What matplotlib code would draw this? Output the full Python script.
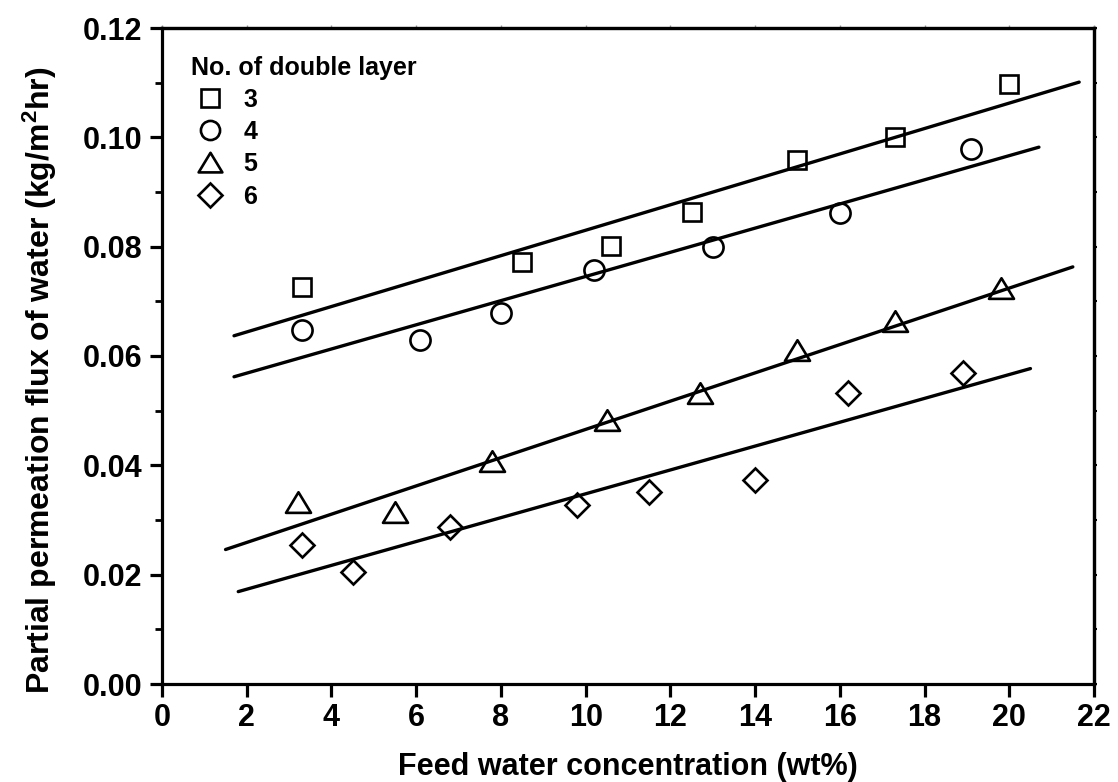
import numpy as np
import matplotlib
matplotlib.use('Agg')
import matplotlib.pyplot as plt
from matplotlib.path import Path
from matplotlib.lines import Line2D

plt.rcParams['font.family'] = ['Liberation Sans', 'DejaVu Sans']
plt.rcParams['font.weight'] = 'bold'
plt.rcParams['mathtext.fontset'] = 'custom'
plt.rcParams['mathtext.rm'] = 'Liberation Sans:bold'
plt.rcParams['mathtext.bf'] = 'Liberation Sans:bold'
plt.rcParams['mathtext.default'] = 'rm'

# measured permeation flux for each number of double layers
x3 = [3.3, 8.5, 10.6, 12.5, 15.0, 17.3, 20.0]
y3 = [0.0726, 0.0772, 0.0802, 0.0864, 0.0959, 0.1001, 0.1097]
x4 = [3.3, 6.1, 8.0, 10.2, 13.0, 16.0, 19.1]
y4 = [0.0647, 0.0629, 0.0678, 0.0757, 0.0799, 0.0862, 0.0979]
x5 = [3.2, 5.5, 7.8, 10.5, 12.7, 15.0, 17.3, 19.8]
y5 = [0.0331, 0.0312, 0.0406, 0.0482, 0.0531, 0.0610, 0.0662, 0.0723]
x6 = [3.3, 4.5, 6.8, 9.8, 11.5, 14.0, 16.2, 18.9]
y6 = [0.0254, 0.0204, 0.0288, 0.0327, 0.0351, 0.0373, 0.0533, 0.0569]

# end points of the linear fits
fit3_x = [1.7, 21.65]
fit3_y = [0.0637, 0.1101]
fit4_x = [1.7, 20.7]
fit4_y = [0.0562, 0.0982]
fit5_x = [1.5, 21.5]
fit5_y = [0.0246, 0.0763]
fit6_x = [1.8, 20.5]
fit6_y = [0.0169, 0.0577]

layers = ['3', '4', '5', '6']

# wide, flat triangle like the original symbol
tri = Path([(-1, -0.75), (1, -0.75), (0, 0.9), (-1, -0.75)], closed=True)

fig = plt.figure(figsize=(11.18, 7.82), dpi=100)
ax = fig.add_axes([162/1118, 1-684/782, 932/1118, 656/782])

lw = 2.4
mew = 1.9
styles = [('s', 13), ('o', 14.5), (tri, 18), ('D', 12.5)]
data = [(x3, y3, fit3_x, fit3_y), (x4, y4, fit4_x, fit4_y),
        (x5, y5, fit5_x, fit5_y), (x6, y6, fit6_x, fit6_y)]

handles = []
for (xs, ys, fx, fy), (mk, ms) in zip(data, styles):
    ax.plot(fx, fy, '-', color='black', lw=lw, solid_capstyle='round')
    ax.plot(xs, ys, linestyle='none', marker=mk, ms=ms, mfc='none',
            mec='black', mew=mew)
    handles.append(Line2D([], [], linestyle='none', marker=mk, ms=ms*0.95,
                          mfc='none', mec='black', mew=mew))

ax.set_xlim(0, 22)
ax.set_ylim(0, 0.12)
ax.set_xticks(np.arange(0, 23, 2))
ax.set_yticks(np.arange(0, 0.121, 0.02))
ax.set_yticks(np.arange(0.01, 0.12, 0.02), minor=True)
ax.set_yticklabels([f'{v:.2f}' for v in np.arange(0, 0.121, 0.02)])

for s in ax.spines.values():
    s.set_linewidth(2.3)

ax.tick_params(axis='both', which='major', direction='out', length=9,
               width=2.3, labelsize=22, pad=5)
ax.tick_params(axis='y', which='minor', direction='out', length=5, width=2.0)

# small ticks on the opposite sides
sec_y = ax.secondary_yaxis('right')
sec_y.set_yticks(np.arange(0, 0.121, 0.01))
sec_y.tick_params(direction='out', length=2.5, width=1.5, labelright=False)
sec_y.spines['right'].set_linewidth(2.3)
sec_x = ax.secondary_xaxis('top')
sec_x.set_xticks(np.arange(0, 23, 2))
sec_x.tick_params(direction='out', length=2, width=1.0, color='#999999',
                  labeltop=False)
sec_x.spines['top'].set_linewidth(2.3)

ax.set_xlabel('Feed water concentration (wt%)', fontsize=22, fontweight='bold',
              labelpad=13)
ax.set_ylabel('Partial permeation flux of water (kg/m$^2$hr)', fontsize=23,
              fontweight='bold')
ax.yaxis.set_label_coords(-0.110, 0.463)

leg = ax.legend(handles, layers, title='No. of double layer', loc='upper left',
                bbox_to_anchor=(0.031, 0.958), frameon=False,
                prop={'size': 18, 'weight': 'bold'}, handlelength=1.5,
                handletextpad=0.6, labelspacing=0.33, borderpad=0,
                borderaxespad=0, alignment='left')
leg.get_title().set_fontsize(18)
leg.get_title().set_fontweight('bold')

fig.savefig('out.png', dpi=100)
